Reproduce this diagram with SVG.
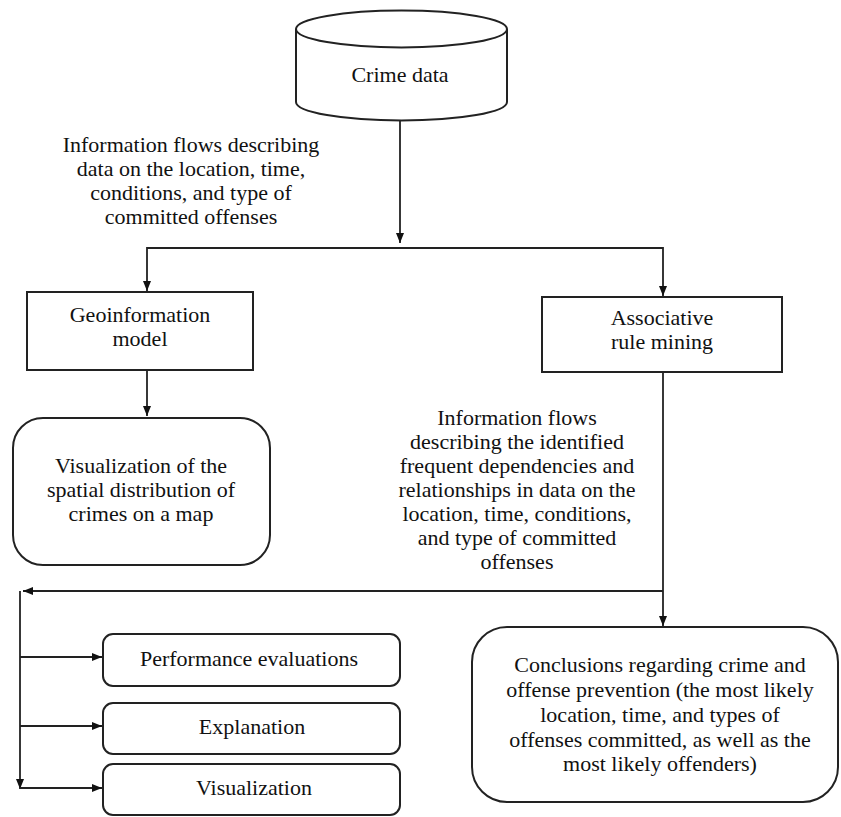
<svg xmlns="http://www.w3.org/2000/svg" width="841" height="817" viewBox="0 0 841 817">
<defs>
<style>
.s{fill:#fff;stroke:#222;stroke-width:2}
.c{fill:none;stroke:#222;stroke-width:1.8}
</style>
<marker id="a" viewBox="0 0 10 10" refX="10" refY="5" markerWidth="10" markerHeight="10" markerUnits="userSpaceOnUse" orient="auto">
<path d="M0,1 L10,5 L0,9 Z" fill="#111"/>
</marker>
</defs>
<rect width="841" height="817" fill="#fff"/>
<g id="connectors">
<line class="c" x1="400" y1="121" x2="400" y2="243" marker-end="url(#a)"/>
<polyline class="c" points="663,248 147,248 147,291" marker-end="url(#a)"/>
<polyline class="c" points="400,248 663,248 663,296" marker-end="url(#a)"/>
<line class="c" x1="147" y1="370" x2="147" y2="416" marker-end="url(#a)"/>
<line class="c" x1="663" y1="372" x2="663" y2="626" marker-end="url(#a)"/>
<polyline class="c" points="663,591 23,591" marker-end="url(#a)"/>
<line class="c" x1="20" y1="591" x2="20" y2="789" marker-end="url(#a)"/>
<line class="c" x1="20" y1="657" x2="102" y2="657" marker-end="url(#a)"/>
<line class="c" x1="20" y1="726" x2="102" y2="726" marker-end="url(#a)"/>
<line class="c" x1="20" y1="788" x2="102" y2="788" marker-end="url(#a)"/>
</g>
<g font-family="Liberation Serif, Tinos, Times New Roman, Noto Serif, DejaVu Serif, serif" font-size="22" fill="#111" text-anchor="middle">
<g id="crime-data">
<path class="s" d="M296,29 L296,102 A105.5,18.5 0 0 0 507,102 L507,29"/>
<ellipse class="s" cx="401.5" cy="29" rx="105.5" ry="18.5"/>
<text x="400" y="82">Crime data</text>
</g>
<g id="label-flows-1">
<text x="191" y="152">Information flows describing</text>
<text x="191" y="176">data on the location, time,</text>
<text x="191" y="200">conditions, and type of</text>
<text x="191" y="224">committed offenses</text>
</g>
<g id="geoinformation">
<rect class="s" x="27" y="292" width="226" height="78"/>
<text x="140" y="322">Geoinformation</text>
<text x="140" y="346">model</text>
</g>
<g id="associative">
<rect class="s" x="542" y="297" width="240" height="75"/>
<text x="662" y="325">Associative</text>
<text x="662" y="349">rule mining</text>
</g>
<g id="visualization-map">
<rect class="s" x="13" y="418" width="257" height="147" rx="30" ry="30"/>
<text x="141" y="473">Visualization of the</text>
<text x="141" y="497">spatial distribution of</text>
<text x="141" y="521">crimes on a map</text>
</g>
<g id="label-flows-2">
<text x="517" y="425">Information flows</text>
<text x="517" y="449">describing the identified</text>
<text x="517" y="473">frequent dependencies and</text>
<text x="517" y="497">relationships in data on the</text>
<text x="517" y="521">location, time, conditions,</text>
<text x="517" y="545">and type of committed</text>
<text x="517" y="569">offenses</text>
</g>
<g id="performance">
<rect class="s" x="103" y="634" width="297" height="52" rx="10" ry="10"/>
<text x="249" y="666">Performance evaluations</text>
</g>
<g id="explanation">
<rect class="s" x="103" y="703" width="297" height="51" rx="10" ry="10"/>
<text x="252" y="734">Explanation</text>
</g>
<g id="visualization">
<rect class="s" x="103" y="764" width="297" height="51" rx="10" ry="10"/>
<text x="254" y="795">Visualization</text>
</g>
<g id="conclusions">
<rect class="s" x="472" y="627" width="366" height="175" rx="35" ry="35"/>
<text x="660" y="672">Conclusions regarding crime and</text>
<text x="660" y="697">offense prevention (the most likely</text>
<text x="660" y="722">location, time, and types of</text>
<text x="660" y="747">offenses committed, as well as the</text>
<text x="660" y="771">most likely offenders)</text>
</g>
</g>
</svg>
